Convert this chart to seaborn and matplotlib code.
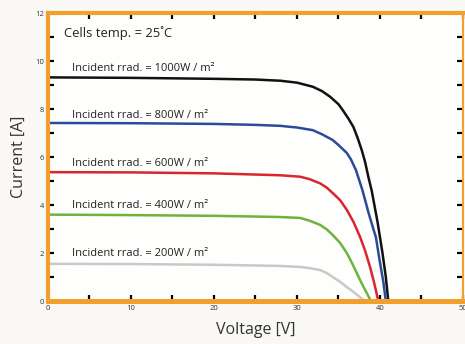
import numpy as np
import matplotlib
matplotlib.use('Agg')
import matplotlib.pyplot as plt
import pandas as pd
import seaborn as sns
from matplotlib.ticker import MultipleLocator

# I-V curves
v_1000 = [0, 10, 20, 25, 28, 30, 31.9, 33, 34.0, 35, 35.5, 36.2, 36.8, 37.3, 37.8,
          38.2, 38.6, 39.0, 39.7, 40.3, 40.7, 41.0]
i_1000 = [9.32, 9.3, 9.26, 9.23, 9.18, 9.1, 8.93, 8.75, 8.51, 8.2, 7.96, 7.6, 7.25,
          6.8, 6.29, 5.8, 5.17, 4.6, 3.3, 2.0, 1.0, 0.0]

v_800 = [0, 10, 20, 25, 28, 30, 31.9, 33, 34.3, 35, 36.0, 36.5, 37.1, 37.9, 38.6,
         39.2, 39.5, 40.0, 40.4, 40.7]
i_800 = [7.42, 7.41, 7.38, 7.34, 7.3, 7.23, 7.12, 6.95, 6.71, 6.5, 6.17, 5.9, 5.46,
         4.6, 3.7, 3.0, 2.67, 1.6, 0.8, 0.0]

v_600 = [0, 10, 20, 25, 28, 30.4, 31.5, 32.8, 33.6, 34.3, 35.2, 36.0, 36.8, 37.6,
         38.2, 38.8, 39.3, 39.8]
i_600 = [5.37, 5.36, 5.32, 5.27, 5.24, 5.18, 5.08, 4.9, 4.72, 4.5, 4.2, 3.8, 3.3,
         2.67, 2.1, 1.42, 0.75, 0.0]

v_400 = [0, 10, 20, 25, 28, 30.4, 31.5, 32.8, 33.6, 34.3, 35.2, 36.0, 36.6, 37.2,
         37.7, 38.3, 38.9]
i_400 = [3.6, 3.58, 3.55, 3.52, 3.5, 3.46, 3.35, 3.17, 2.98, 2.75, 2.42, 2.0, 1.6,
         1.17, 0.8, 0.4, 0.0]

v_200 = [0, 10, 20, 25, 28, 30.4, 31.5, 32.8, 33.6, 34.3, 35.2, 36.0, 36.8, 37.5, 38.2]
i_200 = [1.55, 1.54, 1.51, 1.48, 1.46, 1.42, 1.37, 1.29, 1.16, 1.0, 0.8, 0.58, 0.38,
         0.18, 0.0]

labels = ['1000', '800', '600', '400', '200']
colors = ['#111111', '#2b4a98', '#d9252e', '#6cb33f', '#c9c9c9']
label_y = [9.67, 7.75, 5.75, 4.0, 1.96]

curves = [(v_1000, i_1000), (v_800, i_800), (v_600, i_600), (v_400, i_400), (v_200, i_200)]
rows = []
for lab, (vv, ii) in zip(labels, curves):
    for a, b in zip(vv, ii):
        rows.append({'Voltage': a, 'Current': b, 'irr': lab})
df = pd.DataFrame(rows)

sns.set_style('ticks')
plt.rcParams['font.family'] = ['Open Sans', 'DejaVu Sans']

orange = '#f29f2e'
fig = plt.figure(figsize=(4.65, 3.44), dpi=100, facecolor='#fbf9f6')
ax = fig.add_axes([0.1032, 0.125, 0.8925, 0.837])
ax.set_facecolor('#fefefd')

sns.lineplot(data=df, x='Voltage', y='Current', hue='irr', palette=colors,
             hue_order=labels, sort=False, estimator=None, linewidth=1.8,
             legend=False, ax=ax)

for lab, y in zip(labels, label_y):
    ax.text(2.9, y, 'Incident rrad. = %sW / m²' % lab, fontsize=8.0,
            color='#222222', va='center', ha='left')
ax.text(1.9, 11.17, 'Cells temp. = 25˚C', fontsize=9.4, color='#222222',
        va='center', ha='left')

ax.set_xlim(0, 50)
ax.set_ylim(0, 12)
ax.xaxis.set_major_locator(MultipleLocator(10))
ax.xaxis.set_minor_locator(MultipleLocator(5))
ax.yaxis.set_major_locator(MultipleLocator(2))
ax.yaxis.set_minor_locator(MultipleLocator(1))
ax.tick_params(which='both', direction='in', length=4, width=1.6, color='black',
               top=True, right=True, labelsize=5.5, labelcolor='#333333', pad=3)

for side, w in [('left', 3.0), ('bottom', 3.6), ('top', 3.0), ('right', 1.5)]:
    ax.spines[side].set_color(orange)
    ax.spines[side].set_linewidth(w)

ax.set_xlabel('Voltage [V]', fontsize=11.5, color='#333333', labelpad=7)
ax.set_ylabel('Current [A]', fontsize=11.5, color='#333333', labelpad=6)

fig.savefig('out.png', dpi=100, facecolor=fig.get_facecolor())
